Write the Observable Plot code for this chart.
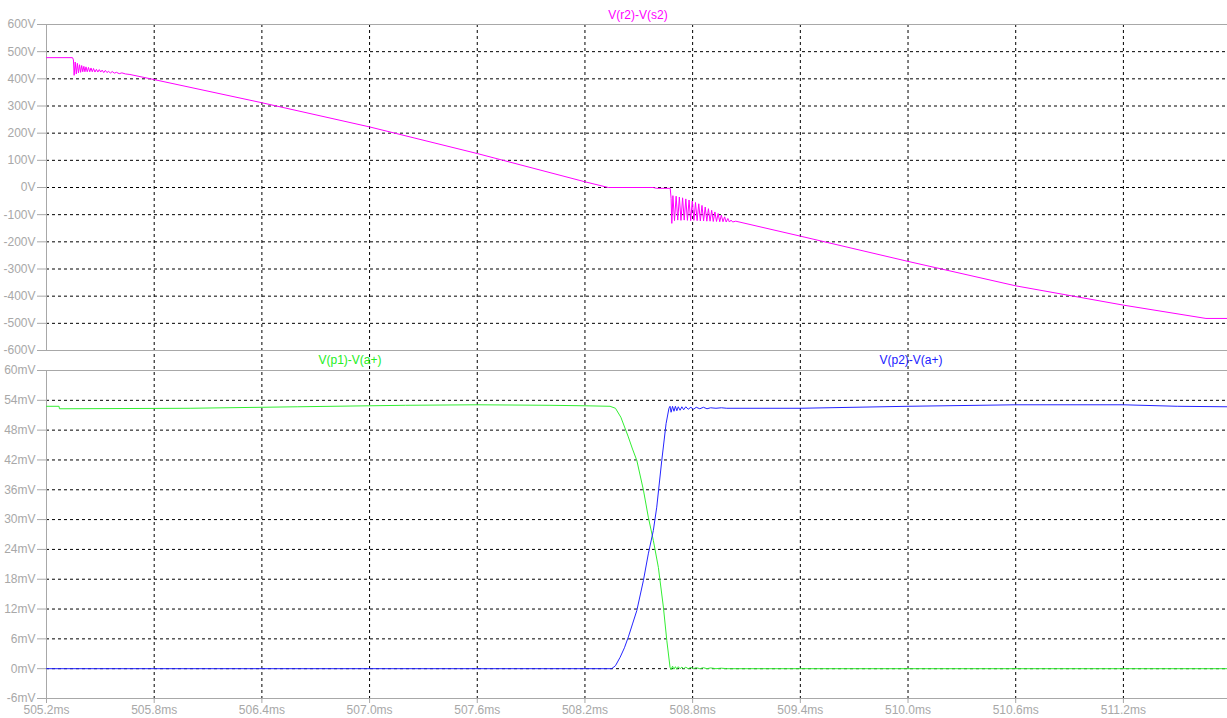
<!DOCTYPE html>
<html>
<head>
<meta charset="utf-8">
<script src="https://cdn.jsdelivr.net/npm/d3@7"></script>
<script src="https://cdn.jsdelivr.net/npm/@observablehq/plot@0.6"></script>
<style>
  html, body { margin: 0; padding: 0; background: #fff; }
  #wrap { position: relative; width: 1227px; height: 718px; overflow: hidden; background: #fff; font-family: "Liberation Sans", Arial, sans-serif; }
  .pane { position: absolute; left: 0; }
  .ttl { position: absolute; font-size: 12px; transform: translate(-50%, -50%); white-space: nowrap; }
</style>
</head>
<body>
<div id="wrap">
  <div id="top" class="pane" style="top:0"></div>
  <div id="bot" class="pane" style="top:360px"></div>
  <div class="ttl" style="left:638px; top:15px; color:#ff00ff">V(r2)-V(s2)</div>
  <div class="ttl" style="left:350px; top:360px; color:#22ee22">V(p1)-V(a+)</div>
  <div class="ttl" style="left:911px; top:360px; color:#2020ff">V(p2)-V(a+)</div>
</div>
<script>
// ---- data (time in ms) ----
const xDomain = [505.2, 511.78];
const xTicks = [505.2, 505.8, 506.4, 507.0, 507.6, 508.2, 508.8, 509.4, 510.0, 510.6, 511.2];
const topDomain = [-600, 600];
const topTicks = [-600, -500, -400, -300, -200, -100, 0, 100, 200, 300, 400, 500, 600];
const botDomain = [-6, 60];
const botTicks = [-6, 0, 6, 12, 18, 24, 30, 36, 42, 48, 54, 60];

// V(r2)-V(s2) in volts
const traceR2S2 = [
  [505.200, 478], [505.345, 478], [505.350, 470],
  [505.354, 413], [505.360, 462], [505.366, 418], [505.372, 457], [505.378, 422],
  [505.384, 452], [505.390, 424], [505.396, 449], [505.402, 426], [505.408, 446],
  [505.414, 426], [505.420, 444], [505.427, 426], [505.434, 442], [505.441, 426],
  [505.448, 440], [505.455, 426], [505.462, 438], [505.470, 425], [505.478, 435],
  [505.486, 425], [505.494, 434], [505.502, 425], [505.510, 432], [505.519, 423],
  [505.528, 431], [505.537, 423], [505.546, 428], [505.556, 421], [505.566, 427],
  [505.578, 421], [505.590, 424], [505.605, 419], [505.620, 422], [505.640, 418],
  [505.665, 416], [505.780, 400], [506.400, 312], [507.000, 223], [507.600, 125],
  [508.200, 21], [508.330, 0], [508.580, 0], [508.600, -3], [508.675, -3],
  [508.680, -40], [508.684, -132],
  [508.690, -30], [508.699, -122], [508.708, -32], [508.717, -120], [508.726, -35],
  [508.735, -121], [508.744, -38], [508.753, -120], [508.762, -42], [508.771, -121],
  [508.780, -46], [508.789, -122], [508.798, -50], [508.807, -121], [508.816, -55],
  [508.825, -122], [508.834, -60], [508.843, -123], [508.852, -66], [508.861, -123],
  [508.870, -72], [508.879, -124], [508.888, -78], [508.897, -124], [508.906, -84],
  [508.915, -125], [508.924, -90], [508.933, -125], [508.942, -96], [508.951, -126],
  [508.960, -102], [508.969, -126], [508.978, -108], [508.987, -127], [508.996, -114],
  [509.005, -127], [509.014, -120], [509.023, -127], [509.040, -124],
  [509.400, -179], [510.000, -272], [510.600, -362], [511.200, -433],
  [511.660, -482], [511.780, -482]
];

// V(p1)-V(a+) in mV
const traceP1 = [
  [505.200, 52.8], [505.270, 52.8], [505.272, 52.3], [506.000, 52.4], [506.600, 52.7],
  [507.200, 53.0], [507.600, 53.1], [508.000, 53.0], [508.200, 52.9], [508.340, 52.8],
  [508.370, 52.4], [508.400, 50.6], [508.440, 46.8], [508.465, 44.2], [508.489, 41.9],
  [508.526, 35.9], [508.553, 30.5], [508.581, 25.8], [508.609, 20.4], [508.637, 12.4],
  [508.656, 5.7], [508.674, 0.3],
  [508.680, -0.2], [508.688, 0.5], [508.696, -0.1], [508.704, 0.4], [508.712, -0.1],
  [508.720, 0.4], [508.730, 0.0], [508.740, 0.3], [508.750, 0.0], [508.762, 0.3],
  [508.775, 0.0], [508.790, 0.25], [508.805, 0.0], [508.820, 0.2], [508.840, 0.0],
  [508.860, 0.2], [508.880, 0.0], [508.900, 0.15], [508.930, 0.0], [508.960, 0.1],
  [508.990, 0.0], [511.780, 0.0]
];

// V(p2)-V(a+) in mV
const traceP2 = [
  [505.200, 0.0], [508.349, 0.0], [508.370, 0.6], [508.396, 2.3], [508.420, 4.2],
  [508.442, 6.4], [508.465, 9.0], [508.489, 11.7], [508.526, 17.8], [508.553, 23.1],
  [508.581, 27.8], [508.600, 32.5], [508.628, 41.9], [508.652, 49.3], [508.668, 52.4],
  [508.674, 52.8],
  [508.680, 51.6], [508.688, 52.8], [508.696, 51.8], [508.704, 52.8], [508.712, 51.9],
  [508.720, 52.7], [508.730, 52.0], [508.740, 52.7], [508.750, 52.1], [508.762, 52.7],
  [508.775, 52.2], [508.790, 52.6], [508.805, 52.2], [508.820, 52.6], [508.840, 52.3],
  [508.860, 52.6], [508.880, 52.3], [508.900, 52.5], [508.930, 52.4], [508.960, 52.5],
  [508.990, 52.4], [509.400, 52.4], [510.000, 52.8], [510.600, 53.1], [511.200, 53.1],
  [511.500, 52.8], [511.780, 52.7]
];

// ---- styles ----
const GRID = {stroke: "#000", strokeDasharray: "3,3", strokeWidth: 1};
const FRAME = "#a8a8a8";
const LABEL = "#a8a8a8";
const inner = (ticks, dom) => ticks.filter(t => t > dom[0] && t < dom[1]);

const topPlot = Plot.plot({
  width: 1227, height: 360,
  marginLeft: 46, marginRight: 0, marginTop: 24, marginBottom: 10,
  style: {fontFamily: "Liberation Sans, Arial, sans-serif", fontSize: "12px", color: LABEL, background: "#fff", overflow: "visible"},
  x: {domain: xDomain, axis: null},
  y: {domain: topDomain, ticks: topTicks, tickFormat: d => `${d}V`, tickSize: 9, tickPadding: 2, label: null},
  marks: [
    Plot.ruleY(inner(topTicks, topDomain), GRID),
    Plot.ruleX(inner(xTicks, xDomain), {...GRID, insetBottom: -10}),
    Plot.ruleY(topDomain, {stroke: FRAME}),
    Plot.ruleX([xDomain[0]], {stroke: FRAME}),
    Plot.line(traceR2S2, {x: d => d[0], y: d => d[1], stroke: "#ff00ff", strokeWidth: 1, clip: true})
  ]
});
document.getElementById("top").appendChild(topPlot);

const botPlot = Plot.plot({
  width: 1227, height: 358,
  marginLeft: 46, marginRight: 0, marginTop: 10, marginBottom: 20,
  style: {fontFamily: "Liberation Sans, Arial, sans-serif", fontSize: "12px", color: LABEL, background: "#fff", overflow: "visible"},
  x: {domain: xDomain, ticks: xTicks, tickFormat: d => d.toFixed(1) + "ms", tickSize: 5, tickPadding: 2, label: null},
  y: {domain: botDomain, ticks: botTicks, tickFormat: d => `${d}mV`, tickSize: 9, tickPadding: 2, label: null},
  marks: [
    Plot.ruleY(inner(botTicks, botDomain), GRID),
    Plot.ruleX(inner(xTicks, xDomain), {...GRID, insetTop: -10}),
    Plot.ruleY(botDomain, {stroke: FRAME}),
    Plot.ruleX([xDomain[0]], {stroke: FRAME}),
    Plot.line(traceP1, {x: d => d[0], y: d => d[1], stroke: "#33ee33", strokeWidth: 1, clip: true}),
    Plot.line(traceP2, {x: d => d[0], y: d => d[1], stroke: "#2525ff", strokeWidth: 1, clip: true})
  ]
});
document.getElementById("bot").appendChild(botPlot);
</script>
</body>
</html>
